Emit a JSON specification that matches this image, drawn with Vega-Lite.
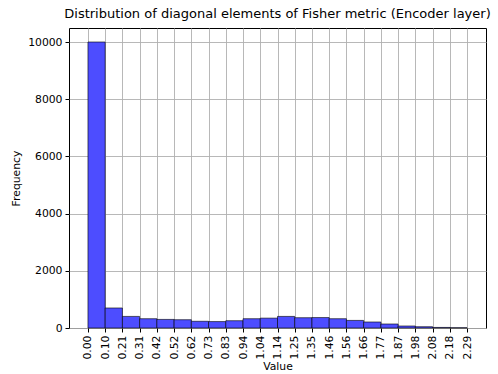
{
  "$schema": "https://vega.github.io/schema/vega-lite/v6.json",
  "width": 417,
  "height": 300,
  "autosize": {"type": "none"},
  "padding": {"left": 69, "top": 28, "right": 12, "bottom": 46},
  "background": "white",
  "title": {
    "text": "Distribution of diagonal elements of Fisher metric (Encoder layer)",
    "font": "DejaVu Sans",
    "fontSize": 13,
    "fontWeight": "normal",
    "color": "black",
    "anchor": "middle",
    "offset": 7
  },
  "config": {
    "view": {"stroke": "black", "strokeWidth": 1},
    "axis": {
      "labelFont": "DejaVu Sans",
      "titleFont": "DejaVu Sans",
      "labelFontSize": 10.8,
      "titleFontSize": 10.8,
      "titleFontWeight": "normal",
      "labelColor": "black",
      "titleColor": "black",
      "tickColor": "black",
      "tickSize": 4,
      "domain": false,
      "gridColor": "#b0b0b0",
      "gridWidth": 0.9,
      "gridOpacity": 1,
      "zindex": 1
    }
  },
  "data": {
    "values": [
      {"bin_start": 0.000, "bin_end": 0.104, "count": 10000},
      {"bin_start": 0.104, "bin_end": 0.208, "count": 700},
      {"bin_start": 0.208, "bin_end": 0.312, "count": 405},
      {"bin_start": 0.312, "bin_end": 0.416, "count": 325},
      {"bin_start": 0.416, "bin_end": 0.520, "count": 300},
      {"bin_start": 0.520, "bin_end": 0.624, "count": 290},
      {"bin_start": 0.624, "bin_end": 0.728, "count": 235},
      {"bin_start": 0.728, "bin_end": 0.832, "count": 225},
      {"bin_start": 0.832, "bin_end": 0.936, "count": 255},
      {"bin_start": 0.936, "bin_end": 1.040, "count": 325},
      {"bin_start": 1.040, "bin_end": 1.144, "count": 345},
      {"bin_start": 1.144, "bin_end": 1.248, "count": 405},
      {"bin_start": 1.248, "bin_end": 1.352, "count": 360},
      {"bin_start": 1.352, "bin_end": 1.456, "count": 365},
      {"bin_start": 1.456, "bin_end": 1.560, "count": 325},
      {"bin_start": 1.560, "bin_end": 1.664, "count": 265},
      {"bin_start": 1.664, "bin_end": 1.768, "count": 210},
      {"bin_start": 1.768, "bin_end": 1.872, "count": 140},
      {"bin_start": 1.872, "bin_end": 1.976, "count": 70},
      {"bin_start": 1.976, "bin_end": 2.080, "count": 45},
      {"bin_start": 2.080, "bin_end": 2.184, "count": 20},
      {"bin_start": 2.184, "bin_end": 2.288, "count": 10}
    ]
  },
  "mark": {
    "type": "rect",
    "fill": "#4d4dff",
    "stroke": "black",
    "strokeOpacity": 0.6,
    "strokeWidth": 1
  },
  "encoding": {
    "x": {
      "field": "bin_start",
      "type": "quantitative",
      "scale": {"domain": [-0.1144, 2.4024], "nice": false, "zero": false},
      "axis": {
        "title": "Value",
        "values": [0, 0.104, 0.208, 0.312, 0.416, 0.52, 0.624, 0.728, 0.832, 0.936, 1.04, 1.144, 1.248, 1.352, 1.456, 1.56, 1.664, 1.768, 1.872, 1.976, 2.08, 2.184, 2.288],
        "format": ".2f",
        "labelAngle": -90,
        "labelAlign": "right",
        "labelBaseline": "middle",
        "labelPadding": 3,
        "labelOverlap": false,
        "titlePadding": 1,
        "grid": true
      }
    },
    "x2": {"field": "bin_end"},
    "y": {
      "field": "count",
      "type": "quantitative",
      "scale": {"domain": [0, 10490], "nice": false},
      "axis": {
        "title": "Frequency",
        "values": [0, 2000, 4000, 6000, 8000, 10000],
        "format": "d",
        "labelPadding": 3,
        "titlePadding": 6,
        "grid": true
      }
    },
    "y2": {"datum": 0}
  }
}
